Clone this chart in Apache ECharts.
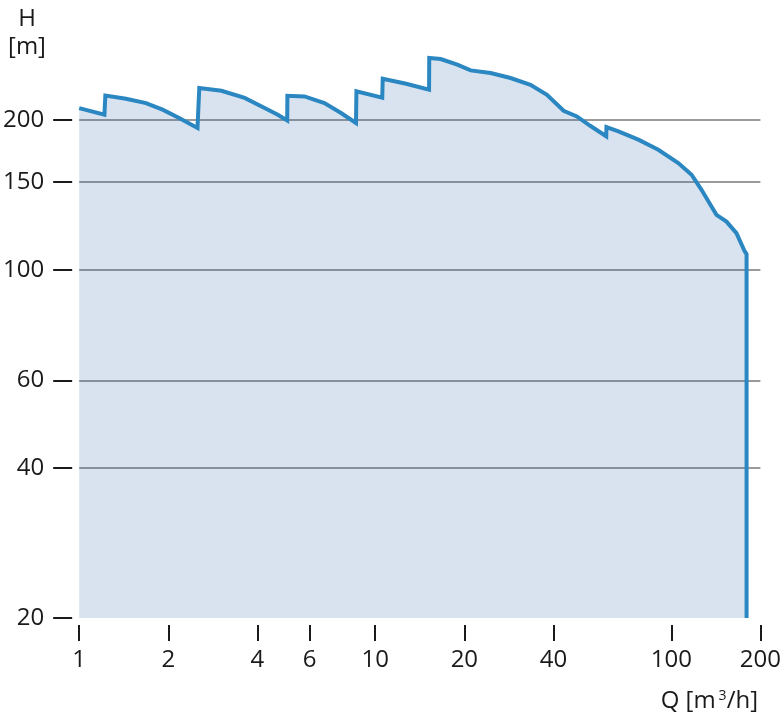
<!DOCTYPE html>
<html><head><meta charset="utf-8">
<script src="https://cdn.jsdelivr.net/npm/echarts@6/dist/echarts.min.js"></script>
<style>html,body{margin:0;padding:0;background:#fff}#c{width:784px;height:712px}</style>
</head><body><div id="c"></div>
<script>
// Pump curve: flow Q [m3/h] vs head H [m] (log-log)
const flowQ = [1.0, 1.217, 1.226, 1.439, 1.681, 1.913, 2.176, 2.51, 2.545,
  3.024, 3.623, 4.23, 4.688, 5.043, 5.05,
  5.768, 6.735, 7.665, 8.61, 8.64,
  10.56, 10.6, 12.72, 15.2, 15.22,
  16.64, 18.93, 21.0, 24.53, 28.64, 33.44, 38.03, 43.29, 47.98, 53.23, 60.3, 60.4,
  66.3, 77.4, 90.4, 105.6, 117.1, 126.5, 136.7, 142.1, 153.6, 166.0, 177.1, 179.6, 179.6];
const headH = [211, 204.7, 223.7, 220.3, 216.0, 209.5, 201.6, 192.6, 231.6,
  228.7, 221.2, 211.1, 204.7, 199.4, 223.4,
  222.7, 216.0, 206.3, 197.0, 228.0,
  221.4, 241.7, 236.2, 229.9, 266.1,
  264.8, 257.9, 251.2, 248.2, 242.5, 235.1, 224.5, 208.5, 203.1, 194.5, 185.3, 193.4,
  189.5, 182.4, 174.1, 163.7, 155.1, 144.7, 133.9, 128.9, 124.9, 118.4, 108.8, 107.5, 20];
const xTickValues = [1, 2, 4, 6, 10, 20, 40, 100, 200];
const yTickValues = [20, 40, 60, 100, 150, 200];
const yTitleLines = ['H', '[m]'];
const xTitleParts = ['Q [m', '3', '/h]'];

const textColor = '#1a1a1a';
const fontFamily = '"Open Sans", "Noto Sans", sans-serif';
const chart = echarts.init(document.getElementById('c'), null, {renderer: 'canvas'});
chart.setOption({
  animation: false,
  backgroundColor: '#ffffff',
  grid: {left: 79, right: 22, top: 32, bottom: 94, containLabel: false},
  xAxis: {
    type: 'log', logBase: 10, min: 1, max: 200, offset: 7,
    axisLine: {show: false},
    axisTick: {show: true, customValues: xTickValues, length: 16, lineStyle: {color: textColor, width: 2}},
    axisLabel: {customValues: xTickValues, fontSize: 24, color: textColor, fontFamily: fontFamily, margin: 23},
    splitLine: {show: false}
  },
  yAxis: {
    type: 'log', logBase: 10, min: 20, max: 300, offset: 7,
    axisLine: {show: false},
    axisTick: {show: true, customValues: yTickValues, length: 19, lineStyle: {color: textColor, width: 2}},
    axisLabel: {customValues: yTickValues, fontSize: 24, color: textColor, fontFamily: fontFamily, margin: 28},
    splitLine: {show: true, showMinLine: false, lineStyle: {color: '#9a9a9a', width: 2}}
  },
  graphic: [
    {type: 'text', x: 27, y: 19, style: {text: yTitleLines[0], fill: textColor, font: '24px ' + fontFamily, textAlign: 'center', textVerticalAlign: 'middle'}},
    {type: 'text', x: 27, y: 47, style: {text: yTitleLines[1], fill: textColor, font: '24px ' + fontFamily, textAlign: 'center', textVerticalAlign: 'middle'}},
    {type: 'text', x: 758, y: 701, style: {
      text: '{a|' + xTitleParts[0] + '}{s|' + xTitleParts[1] + '}{a|' + xTitleParts[2] + '}',
      textAlign: 'right', textVerticalAlign: 'middle',
      rich: {
        a: {fontSize: 24, fontFamily: fontFamily, fill: textColor, color: textColor},
        s: {fontSize: 14, fontFamily: fontFamily, fill: textColor, color: textColor, padding: [0, 0, 10, 3]}
      }
    }}
  ],
  series: [{
    type: 'line',
    data: flowQ.map((q, i) => [q, headH[i]]),
    showSymbol: false,
    symbol: 'none',
    smooth: false,
    lineStyle: {color: '#2b87c1', width: 4, join: 'miter'},
    areaStyle: {color: 'rgba(60,110,180,0.195)', opacity: 1, origin: 'start'}
  }]
});
</script></body></html>
